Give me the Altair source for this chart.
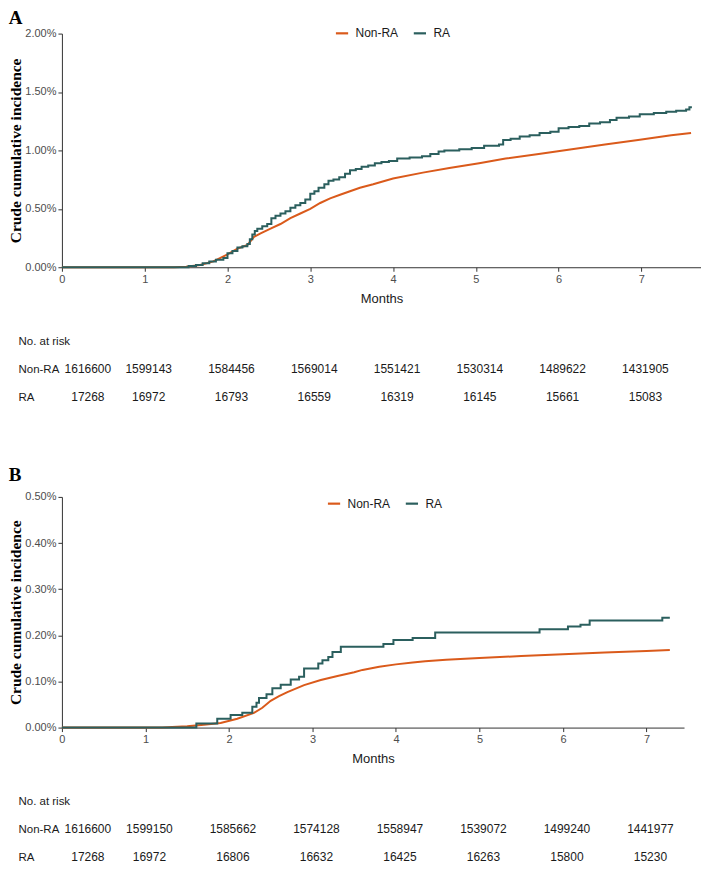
import altair as alt
import pandas as pd

months = [0, 1, 2, 3, 4, 5, 6, 7]
groups = ["Non-RA", "RA"]
risk_rows = ["No. at risk", "Non-RA", "RA"]
colors = ["#DA5A1B", "#2B5F5E"]

# ---- Panel A curves (cumulative incidence, %) ----
a_ra_t = [0, 1.53, 1.62, 1.7, 1.78, 1.86, 1.95, 2.0, 2.06, 2.12, 2.18, 2.24, 2.27, 2.3, 2.33,
          2.36, 2.42, 2.48, 2.53, 2.58, 2.64, 2.7, 2.76, 2.82, 2.88, 2.94, 3.0, 3.05, 3.1, 3.17,
          3.22, 3.28, 3.35, 3.42, 3.48, 3.55, 3.62, 3.7, 3.78, 3.86, 3.95, 4.05, 4.2, 4.35, 4.45,
          4.55, 4.62, 4.8, 4.95, 5.1, 5.28, 5.33, 5.42, 5.53, 5.65, 5.77, 5.9, 6.0, 6.12, 6.25,
          6.37, 6.5, 6.62, 6.7, 6.85, 6.98, 7.15, 7.3, 7.42, 7.54, 7.58, 7.61]
a_ra_v = [0, 0.01, 0.02, 0.035, 0.05, 0.065, 0.08, 0.12, 0.14, 0.17, 0.18, 0.2, 0.24, 0.28, 0.31,
          0.33, 0.35, 0.37, 0.42, 0.44, 0.46, 0.48, 0.51, 0.53, 0.55, 0.58, 0.63, 0.65, 0.68, 0.71,
          0.74, 0.75, 0.77, 0.8, 0.83, 0.84, 0.86, 0.87, 0.89, 0.9, 0.91, 0.93, 0.94, 0.95, 0.97,
          0.99, 1.0, 1.01, 1.02, 1.04, 1.05, 1.09, 1.1, 1.12, 1.13, 1.15, 1.16, 1.19, 1.2, 1.21,
          1.23, 1.24, 1.26, 1.28, 1.29, 1.31, 1.32, 1.33, 1.34, 1.35, 1.37, 1.37]
a_non_t = [0, 1.35, 1.5, 1.67, 1.83, 2.0, 2.12, 2.24, 2.32, 2.4, 2.52, 2.64, 2.76, 2.88, 3.0,
           3.12, 3.24, 3.36, 3.48, 3.6, 3.76, 4.0, 4.36, 4.68, 5.04, 5.36, 5.76, 6.16, 6.56,
           6.96, 7.36, 7.6]
a_non_v = [0, 0, 0.005, 0.02, 0.05, 0.11, 0.16, 0.19, 0.26, 0.29, 0.33, 0.37, 0.42, 0.46, 0.5,
           0.55, 0.59, 0.62, 0.65, 0.68, 0.71, 0.76, 0.81, 0.85, 0.89, 0.93, 0.97, 1.01, 1.05,
           1.09, 1.13, 1.15]

# ---- Panel B curves ----
b_ra_t = [0, 1.61, 1.86, 2.02, 2.16, 2.28, 2.33, 2.36, 2.45, 2.52, 2.62, 2.74, 2.84, 2.9, 3.07,
          3.12, 3.19, 3.24, 3.34, 3.85, 3.97, 4.2, 4.47, 5.72, 6.06, 6.21, 6.32, 7.19, 7.28]
b_ra_v = [0, 0.009, 0.019, 0.027, 0.032, 0.045, 0.054, 0.064, 0.072, 0.085, 0.093, 0.104, 0.11,
          0.128, 0.139, 0.146, 0.153, 0.164, 0.175, 0.181, 0.19, 0.194, 0.206, 0.213, 0.219,
          0.223, 0.232, 0.238, 0.238]
b_non_t = [0, 1.2, 1.5, 1.7, 1.9, 2.1, 2.3, 2.4, 2.5, 2.6, 2.7, 2.9, 3.1, 3.3, 3.5, 3.6, 3.8,
           4.0, 4.2, 4.35, 4.6, 5.0, 5.5, 6.0, 6.5, 7.0, 7.28]
b_non_v = [0, 0, 0.003, 0.006, 0.01, 0.019, 0.032, 0.043, 0.058, 0.068, 0.077, 0.092, 0.103,
           0.112, 0.12, 0.125, 0.132, 0.137, 0.141, 0.144, 0.147, 0.151, 0.155, 0.159, 0.163,
           0.166, 0.168]

# ---- Numbers at risk ----
a_risk_non = ["1616600", "1599143", "1584456", "1569014", "1551421", "1530314", "1489622", "1431905"]
a_risk_ra = ["17268", "16972", "16793", "16559", "16319", "16145", "15661", "15083"]
b_risk_non = ["1616600", "1599150", "1585662", "1574128", "1558947", "1539072", "1499240", "1441977"]
b_risk_ra = ["17268", "16972", "16806", "16632", "16425", "16263", "15800", "15230"]

SANS = "Liberation Sans"
SERIF = "Liberation Serif"


def curve_df(non_t, non_v, ra_t, ra_v):
    rows = [{"t": t, "v": v, "g": "Non-RA"} for t, v in zip(non_t, non_v)]
    rows += [{"t": t, "v": v, "g": "RA"} for t, v in zip(ra_t, ra_v)]
    return pd.DataFrame(rows)


def risk_df(non, ra):
    rows = [{"m": m, "row": "Non-RA", "n": n} for m, n in zip(months, non)]
    rows += [{"m": m, "row": "RA", "n": n} for m, n in zip(months, ra)]
    return pd.DataFrame(rows)


def plot_panel(df, letter, xmax, width, height, ymax, yticks, legx, legy, toff):
    x = alt.X("t:Q", scale=alt.Scale(domain=[0, xmax], nice=False, zero=True),
              axis=alt.Axis(values=months, title="Months", grid=False, tickSize=4,
                            labelFont=SANS, labelFontSize=11, labelColor="#4d4d4d",
                            labelPadding=2, titleFont=SANS, titleFontSize=13,
                            titleFontWeight="normal", titleColor="#1a1a1a", titlePadding=8,
                            domainColor="#333333", tickColor="#333333", labelFlush=False))
    y = alt.Y("v:Q", scale=alt.Scale(domain=[0, ymax], nice=False),
              axis=alt.Axis(values=yticks, title="Crude cumulative incidence", grid=False,
                            tickSize=4, labelExpr="format(datum.value, '.2f') + '%'",
                            labelFont=SANS, labelFontSize=11, labelColor="#4d4d4d",
                            labelPadding=2, titleFont=SERIF, titleFontSize=15.5,
                            titleFontWeight="bold", titleColor="#000000", titlePadding=1,
                            domainColor="#333333", tickColor="#333333"))
    color = alt.Color("g:N", scale=alt.Scale(domain=groups, range=colors),
                      legend=alt.Legend(orient="none", legendX=legx, legendY=legy,
                                        direction="horizontal", title=None,
                                        symbolType="stroke", symbolStrokeWidth=2.2,
                                        symbolSize=150, labelFont=SANS, labelFontSize=12,
                                        labelColor="#1a1a1a", labelOffset=6,
                                        columnPadding=10, padding=0))
    base = alt.Chart(df).encode(x=x, y=y, color=color)
    non = base.transform_filter(alt.datum.g == "Non-RA").mark_line(
        interpolate="linear", strokeWidth=2)
    ra = base.transform_filter(alt.datum.g == "RA").mark_line(
        interpolate="step-after", strokeWidth=2)
    return alt.layer(non, ra).properties(
        width=width, height=height,
        title=alt.TitleParams(letter, anchor="start", frame="bounds", font=SERIF,
                              fontSize=19, fontWeight="bold", color="#000000", offset=toff))


def risk_panel(df, xmax, width, height, rng):
    x = alt.X("m:Q", scale=alt.Scale(domain=[0, xmax], nice=False), axis=None)
    y = alt.Y("row:N", scale=alt.Scale(type="point", domain=risk_rows, range=rng, padding=0),
              axis=alt.Axis(title=None, domain=False, ticks=False, tickSize=0,
                            labelAlign="left", labelPadding=44, labelFont=SANS,
                            labelFontSize=11.5, labelColor="#1a1a1a"))
    base = alt.Chart(df).encode(x=x, y=y, text="n:N")
    first = base.transform_filter(alt.datum.m == 0).mark_text(
        align="center", dx=26, font=SANS, fontSize=12, color="#1a1a1a")
    rest = base.transform_filter(alt.datum.m > 0).mark_text(
        align="center", dx=4, font=SANS, fontSize=12, color="#1a1a1a")
    return alt.layer(first, rest).properties(width=width, height=height)


WA, XA = 640, 7.72
WB, XB = 623, 7.45

pA = plot_panel(curve_df(a_non_t, a_non_v, a_ra_t, a_ra_v), "A", XA, WA, 234, 2.0,
                [0, 0.5, 1.0, 1.5, 2.0], 273, -8, -2)
tA = risk_panel(risk_df(a_risk_non, a_risk_ra), XA, WA, 103, [7, 63])
pB = plot_panel(curve_df(b_non_t, b_non_v, b_ra_t, b_ra_v), "B", XB, WB, 231, 0.5,
                [0, 0.1, 0.2, 0.3, 0.4, 0.5], 265, -1, 6)
tB = risk_panel(risk_df(b_risk_non, b_risk_ra), XB, WB, 62, [7, 63])

chart = alt.vconcat(pA, tA, pB, tB, spacing=29).resolve_scale(
    x="independent", y="independent", color="independent"
).resolve_legend(color="independent").properties(padding=0).configure_view(
    stroke=None
)

chart.save("out.html", embed_options={"renderer": "svg", "actions": False})
